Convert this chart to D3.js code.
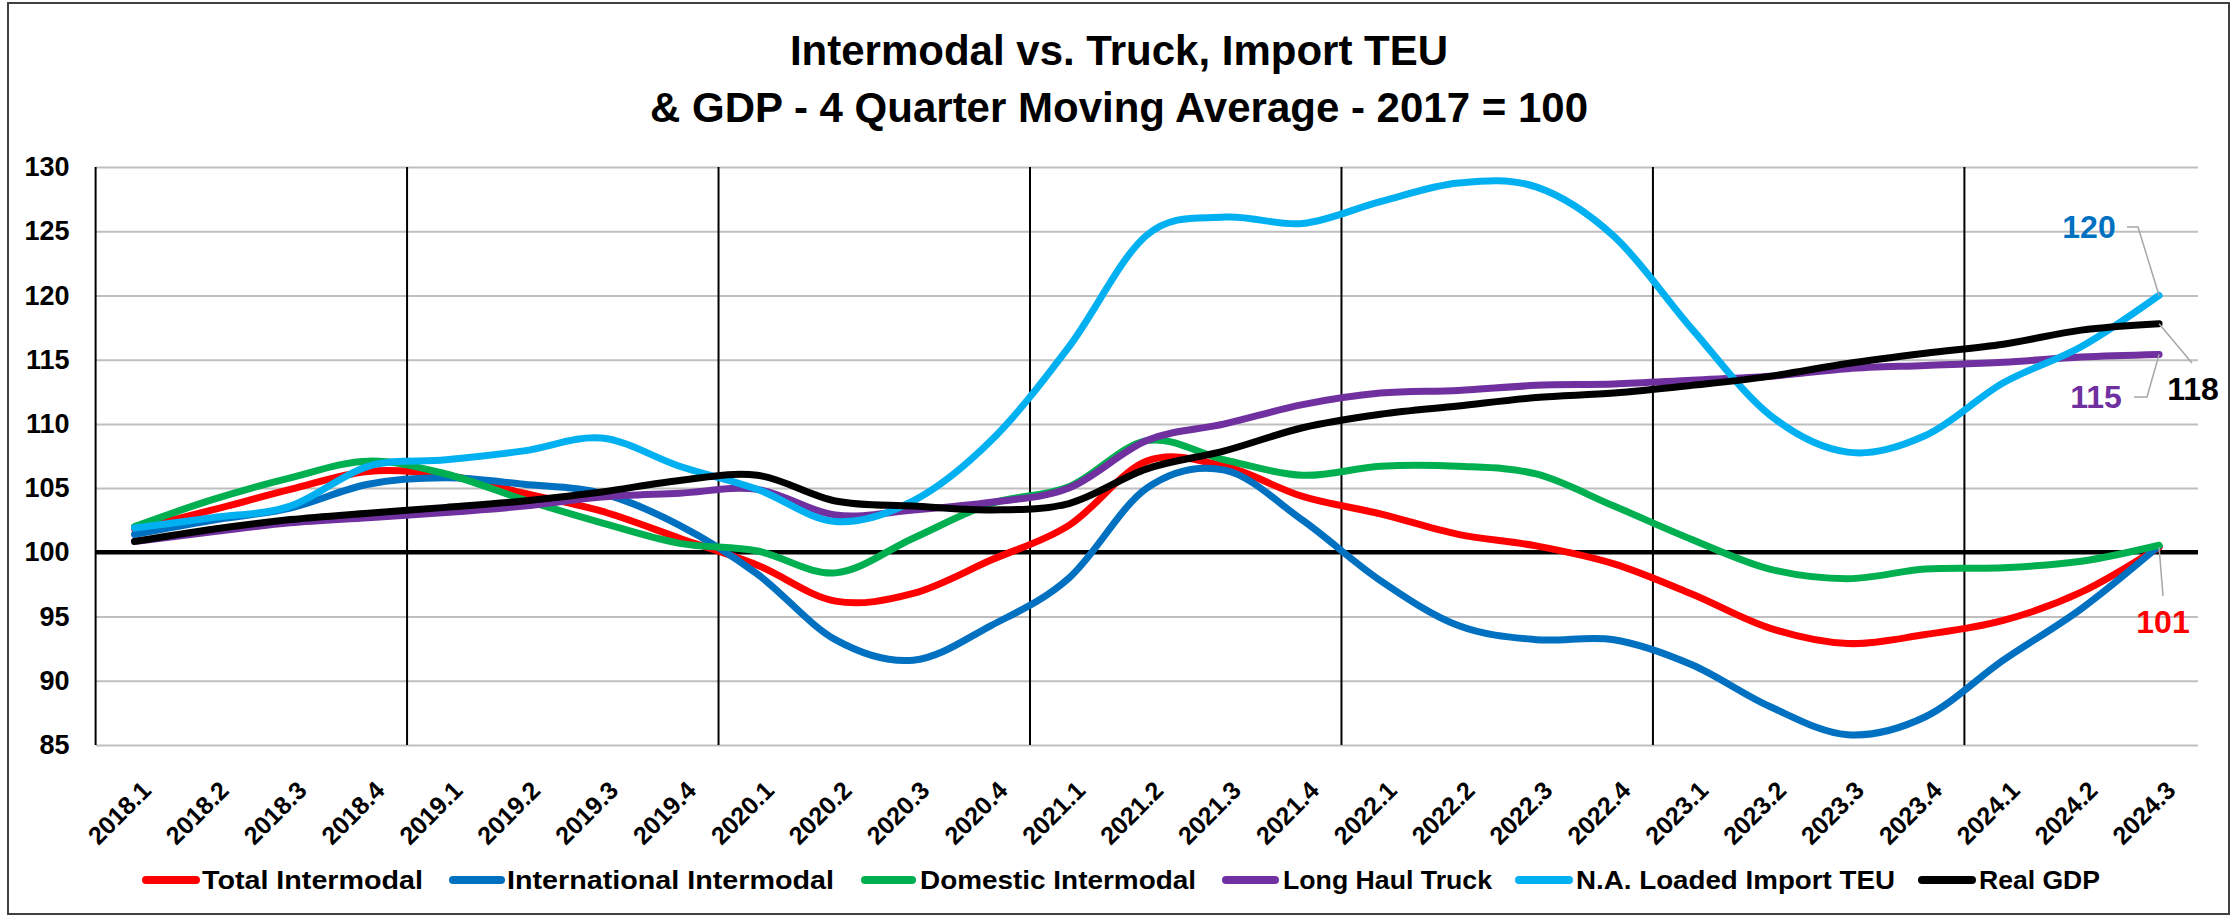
<!DOCTYPE html>
<html>
<head>
<meta charset="utf-8">
<script src="https://cdnjs.cloudflare.com/ajax/libs/d3/7.8.5/d3.min.js"></script>
<style>
body{margin:0;background:#fff;}
text{font-family:"Liberation Sans",Arial,sans-serif;font-weight:bold;}
</style>
</head>
<body>
<div id="vis"></div>
<script>
// Intermodal vs truck, import TEU & GDP (4 quarter moving average, 2017 = 100)
var quarters = ['2018.1','2018.2','2018.3','2018.4','2019.1','2019.2','2019.3','2019.4',
                '2020.1','2020.2','2020.3','2020.4','2021.1','2021.2','2021.3','2021.4',
                '2022.1','2022.2','2022.3','2022.4','2023.1','2023.2','2023.3','2023.4',
                '2024.1','2024.2','2024.3'];

//values, one per quarter
var series = [
    {key:'Total Intermodal', color:'#FF0000',
     values:[101.8,103.3,104.9,106.3,106.0,104.6,103.2,101.1,99.0,96.2,96.8,99.4,102.1,107.1,106.7,
             104.35,103.0,101.4,100.5,99.1,96.75,94.1,92.9,93.6,94.7,96.9,100.4]},
    {key:'International Intermodal', color:'#0070C0',
     values:[101.4,102.5,103.45,105.3,105.8,105.3,104.6,102.1,98.3,93.2,91.6,94.3,98.0,105.0,106.4,
             102.5,97.8,94.3,93.2,93.2,91.25,88.0,85.8,87.2,91.6,95.6,100.5]},
    {key:'Domestic Intermodal', color:'#00B050',
     values:[102.0,104.1,105.8,107.1,106.1,104.1,102.3,100.7,100.1,98.4,101.1,103.8,105.1,108.7,107.2,
             106.0,106.7,106.7,106.1,103.6,101.0,98.7,97.95,98.7,98.8,99.3,100.55]},
    {key:'Long Haul Truck', color:'#7030A0',
     values:[100.85,101.6,102.3,102.7,103.1,103.6,104.3,104.6,104.9,102.9,103.3,103.9,105.0,108.7,110.0,
             111.5,112.4,112.6,113.0,113.1,113.4,113.7,114.3,114.55,114.8,115.2,115.4]},
    {key:'N.A. Loaded Import TEU', color:'#00B0F0',
     values:[101.9,102.7,103.6,106.7,107.2,107.9,108.9,106.7,104.9,102.4,104.0,108.7,116.0,124.7,126.1,
             125.6,127.3,128.75,128.45,124.6,117.4,110.7,107.8,109.1,113.2,116.0,120.0]},
    {key:'Real GDP', color:'#000000',
     values:[100.85,101.8,102.55,103.05,103.5,104.0,104.7,105.6,106.0,104.0,103.6,103.3,103.8,106.5,107.9,
             109.7,110.75,111.4,112.05,112.4,113.0,113.7,114.7,115.5,116.2,117.3,117.8]}
];

//legend layout: sample start/end, text start, text width
var legendPos = [[146,196,202,221],[453,501,507,327],[865,912,920,276],
                 [1226,1275,1283,209],[1519,1569,1576,319],[1922,1972,1979,121]];

//end-of-line labels: series index, text, x, baseline, leader corner points
var endLabels = [
    {s:4, text:'120', x:2089, y:238, color:'#0070C0', path:[[2127,227],[2138,227]]},
    {s:3, text:'115', x:2096, y:408, color:'#7030A0', path:[[2134,397],[2147,397]]},
    {s:5, text:'118', x:2193, y:400, color:'#000000', path:[[2192,363]]},
    {s:0, text:'101', x:2163, y:633, color:'#FF0000', path:[[2163,596]]}
];

var W = 2238, H = 918;
var margin = {top:167, right:40, bottom:173, left:95.6};
var width = W - margin.left - margin.right,
    height = H - margin.top - margin.bottom;

var svg = d3.select('#vis').append('svg')
    .attr('width', W)
    .attr('height', H);

svg.append('rect')
    .attr('x', 8).attr('y', 3)
    .attr('width', 2221).attr('height', 911)
    .attr('fill', '#fff')
    .attr('stroke', '#404040')
    .attr('stroke-width', 2);

//title
svg.append('text').attr('x', 1119).attr('y', 65)
    .attr('text-anchor', 'middle').style('font-size', '42px')
    .text('Intermodal vs. Truck, Import TEU');
svg.append('text').attr('x', 1119).attr('y', 122)
    .attr('text-anchor', 'middle').style('font-size', '42px')
    .text('& GDP - 4 Quarter Moving Average - 2017 = 100');

var g = svg.append('g')
    .attr('transform', 'translate(' + margin.left + ',' + margin.top + ')');

var xScale = d3.scaleBand().domain(quarters).range([0, width]);
var yScale = d3.scaleLinear().domain([85, 130]).range([height, 0]);
function xMid(q){return xScale(q) + xScale.bandwidth() / 2;}

//horizontal grid
var yGrid = d3.axisLeft(yScale).tickValues(d3.range(85, 131, 5)).tickSize(-width).tickFormat('');
g.append('g').attr('class', 'grid y').call(yGrid)
    .call(function(s){
        s.select('.domain').remove();
        s.selectAll('line').attr('stroke', '#BFBFBF').attr('stroke-width', 2);
    });

//year separators (the first one doubles as the y axis line)
g.append('g').selectAll('line')
    .data(quarters.filter(function(q){return q.slice(-2) == '.1';}))
    .enter().append('line')
    .attr('x1', function(q){return xScale(q);})
    .attr('x2', function(q){return xScale(q);})
    .attr('y1', 0).attr('y2', height)
    .attr('stroke', '#000').attr('stroke-width', 2);

//y labels
g.append('g').attr('class', 'axis y')
    .call(d3.axisLeft(yScale).tickValues(d3.range(85, 131, 5)).tickSize(0).tickPadding(26))
    .call(function(s){
        s.select('.domain').remove();
        s.selectAll('text').style('font-size', '27px').attr('fill', '#000')
            .style('font-family', '"Liberation Sans",Arial,sans-serif');
    });

//x labels
g.append('g').attr('class', 'axis x')
    .attr('transform', 'translate(0,' + height + ')')
    .call(d3.axisBottom(xScale).tickSize(0))
    .call(function(s){
        s.select('.domain').remove();
        s.selectAll('text')
            .attr('y', 0).attr('dy', 0)
            .attr('text-anchor', 'end')
            .attr('transform', 'translate(18,47) rotate(-45)')
            .style('font-size', '25px').attr('fill', '#000')
            .style('font-family', '"Liberation Sans",Arial,sans-serif');
    });

//the 100 baseline
g.append('line')
    .attr('x1', 0).attr('x2', width)
    .attr('y1', yScale(100)).attr('y2', yScale(100))
    .attr('stroke', '#000').attr('stroke-width', 4.5);

var line = d3.line()
    .x(function(d, i){return xMid(quarters[i]);})
    .y(function(d){return yScale(d);})
    .curve(d3.curveCardinal.tension(0));

g.selectAll('.series')
    .data(series)
    .enter().append('path')
    .attr('class', 'series')
    .attr('fill', 'none')
    .attr('stroke', function(c){return c.color;})
    .attr('stroke-width', 7)
    .attr('stroke-linecap', 'round')
    .attr('stroke-linejoin', 'round')
    .attr('d', function(c){return line(c.values);});

//end labels with leader lines
var last = quarters[quarters.length - 1];
endLabels.forEach(function(l){
    var v = series[l.s].values[quarters.length - 1];
    var px = margin.left + xMid(last), py = margin.top + yScale(v);
    var pts = l.path.concat([[px, py]]);
    svg.append('path')
        .attr('d', d3.line()(pts))
        .attr('fill', 'none')
        .attr('stroke', '#A6A6A6')
        .attr('stroke-width', 1.5);
    svg.append('text')
        .attr('x', l.x).attr('y', l.y)
        .attr('text-anchor', 'middle')
        .style('font-size', '32px')
        .attr('fill', l.color)
        .text(l.text);
});

//legend
var legend = svg.append('g').attr('class', 'legend');
series.forEach(function(c, i){
    var p = legendPos[i];
    legend.append('line')
        .attr('x1', p[0]).attr('x2', p[1])
        .attr('y1', 880).attr('y2', 880)
        .attr('stroke', c.color).attr('stroke-width', 8)
        .attr('stroke-linecap', 'round');
    legend.append('text')
        .attr('x', p[2]).attr('y', 889)
        .style('font-size', '26px')
        .attr('textLength', p[3])
        .attr('lengthAdjust', 'spacingAndGlyphs')
        .text(c.key);
});
</script>
</body>
</html>
